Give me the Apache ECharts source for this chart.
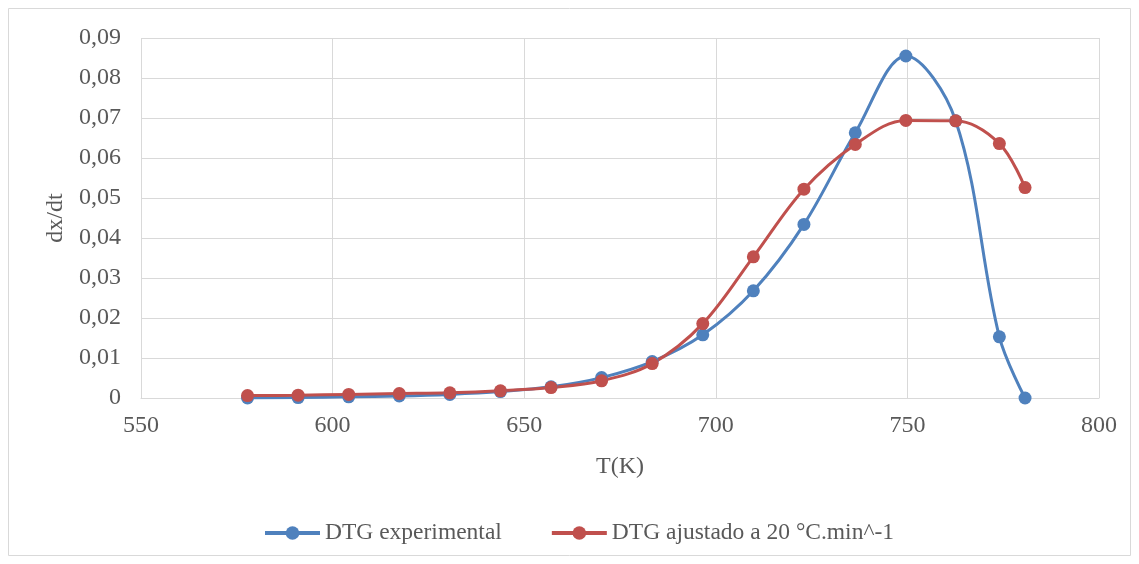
<!DOCTYPE html>
<html>
<head>
<meta charset="utf-8">
<script src="https://cdn.jsdelivr.net/npm/echarts@6/dist/echarts.min.js"></script>
<style>html,body{margin:0;padding:0;background:#fff}#c{width:1139px;height:564px}</style>
</head>
<body>
<div id="c"></div>
<script>
const temperatures = [577.8, 591.0, 604.2, 617.4, 630.6, 643.8, 657.0, 670.2, 683.4, 696.6, 709.8, 723.0, 736.4, 749.6, 762.6, 774.0, 780.7];
const dtgExperimental = [0.0000, 0.0001, 0.0003, 0.0005, 0.0009, 0.0016, 0.0028, 0.0051, 0.0091, 0.0158, 0.0268, 0.0434, 0.0663, 0.0855, 0.0693, 0.0153, 0.0000];
const dtgAjustado = [0.0006, 0.0007, 0.0009, 0.0011, 0.0013, 0.0018, 0.0026, 0.0043, 0.0086, 0.0186, 0.0353, 0.0522, 0.0634, 0.0694, 0.0693, 0.0636, 0.0526];
const seriesNames = ['DTG experimental', 'DTG ajustado a 20 °C.min^-1'];
const xTitle = 'T(K)';
const yTitle = 'dx/dt';

const pair = (xs, ys) => xs.map((x, i) => [x, ys[i]]);
const font = 'Liberation Serif, Times New Roman, serif';
const txt = '#595959';
const chart = echarts.init(document.getElementById('c'));
chart.setOption({
  animation: false,
  textStyle: { fontFamily: font },
  graphic: [{ type: 'rect', shape: { x: 8.5, y: 8.5, width: 1122, height: 547 },
    style: { fill: 'none', stroke: '#d9d9d9', lineWidth: 1 } }],
  grid: { left: 141, right: 40, top: 38, bottom: 166 },
  legend: {
    top: 516, left: 258, itemWidth: 55, itemHeight: 17, itemGap: 48,
    lineStyle: { width: 4 },
    textStyle: { fontFamily: font, fontSize: 23.5, color: txt },
    data: seriesNames
  },
  xAxis: {
    type: 'value', min: 550, max: 800, interval: 50,
    name: xTitle, nameLocation: 'middle', nameGap: 57,
    nameTextStyle: { fontFamily: font, fontSize: 24, color: txt },
    axisLine: { lineStyle: { color: '#d9d9d9' } },
    axisTick: { show: false },
    axisLabel: { fontFamily: font, fontSize: 24, color: txt, margin: 16 },
    splitLine: { lineStyle: { color: '#d9d9d9', width: 1 } }
  },
  yAxis: {
    type: 'value', min: 0, max: 0.09, interval: 0.01,
    name: yTitle, nameLocation: 'middle', nameGap: 73,
    nameTextStyle: { fontFamily: font, fontSize: 24, color: txt },
    axisLine: { show: false },
    axisTick: { show: false },
    axisLabel: { fontFamily: font, fontSize: 24, color: txt, margin: 20,
      formatter: v => v === 0 ? '0' : v.toFixed(2).replace('.', ',') },
    splitLine: { lineStyle: { color: '#d9d9d9', width: 1 } }
  },
  series: [
    { name: seriesNames[0], type: 'line', data: pair(temperatures, dtgExperimental),
      smooth: 0.35, symbol: 'circle', symbolSize: 13,
      itemStyle: { color: '#4F81BD' }, lineStyle: { color: '#4F81BD', width: 3 } },
    { name: seriesNames[1], type: 'line', data: pair(temperatures, dtgAjustado),
      smooth: 0.35, symbol: 'circle', symbolSize: 13,
      itemStyle: { color: '#C0504D' }, lineStyle: { color: '#C0504D', width: 3 } }
  ]
});
</script>
</body>
</html>
